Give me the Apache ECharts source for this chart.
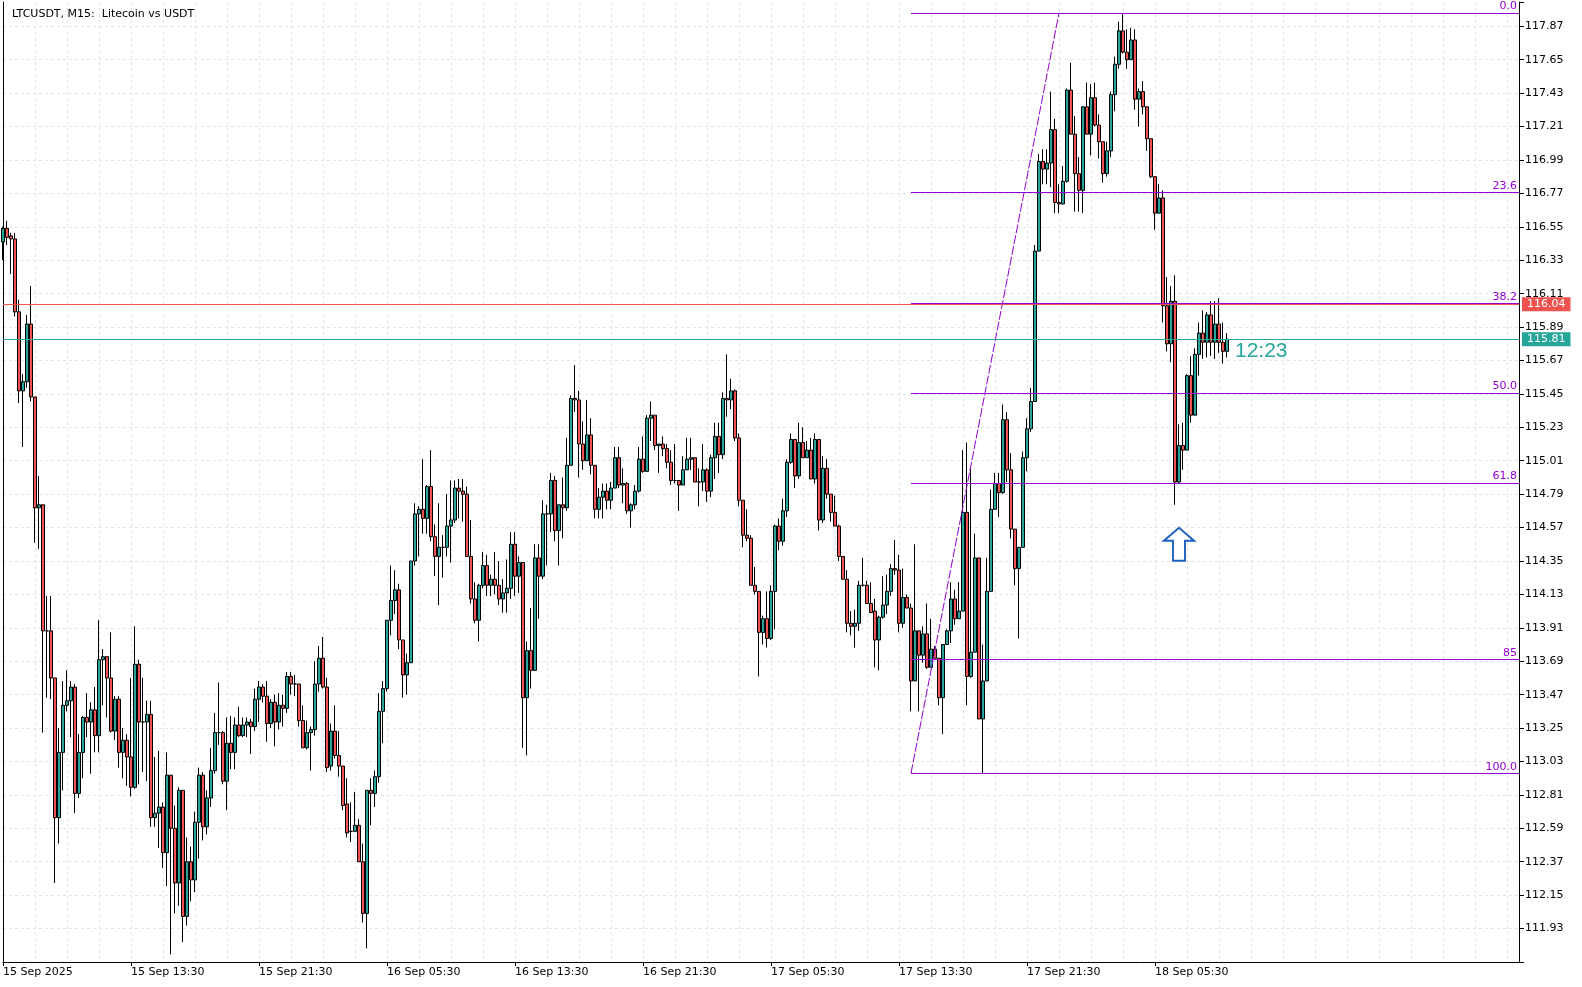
<!DOCTYPE html>
<html><head><meta charset="utf-8">
<script src="https://cdn.jsdelivr.net/npm/echarts@6/dist/echarts.min.js"></script>
<style>html,body{margin:0;padding:0;background:#fff}#c{width:1582px;height:987px}</style>
</head><body><div id="c"></div>
<script>
// ---- data ----
const startTimeUTC = Date.UTC(2025, 8, 15, 5, 30); // first bar: 15 Sep 05:30, M15 bars
const barSlots = 380;
const tickLabels = ['15 Sep 2025','15 Sep 13:30','15 Sep 21:30','16 Sep 05:30','16 Sep 13:30','16 Sep 21:30','17 Sep 05:30','17 Sep 13:30','17 Sep 21:30','18 Sep 05:30'];
const tickEvery = 32;   // bars between time labels
const gridEvery = 8;    // bars between vertical grid lines
// [open, close, low, high]
const ohlc = [
[116.45,116.54,116.33,116.55],[116.54,116.48,116.43,116.59],[116.49,116.47,116.24,116.51],[116.47,115.99,115.96,116.51],
[115.99,115.47,115.39,116.07],[115.47,115.53,115.10,115.58],[115.53,115.91,115.49,115.97],[115.91,115.43,115.40,116.16],
[115.43,114.70,114.47,115.43],[114.70,114.72,114.43,114.91],[114.72,113.89,113.22,114.72],[113.89,113.89,113.45,114.12],
[113.89,113.58,113.44,114.12],[113.58,112.66,112.23,113.58],[112.66,113.09,112.49,113.25],[113.09,113.40,112.84,113.56],
[113.40,113.43,113.36,113.63],[113.43,113.52,113.19,113.56],[113.52,112.82,112.69,113.54],[112.82,113.09,112.79,113.21],
[113.09,113.32,112.92,113.33],[113.32,113.29,113.19,113.48],[113.29,113.37,112.95,113.42],[113.37,113.20,113.09,113.52],
[113.20,113.70,113.09,113.96],[113.70,113.72,113.40,113.77],[113.72,113.58,113.32,113.72],[113.58,113.23,113.22,113.88],
[113.23,113.44,113.17,113.46],[113.44,113.09,112.99,113.46],[113.09,113.17,112.92,113.25],[113.17,113.06,112.87,113.21],
[113.06,112.86,112.80,113.58],[112.86,113.67,112.85,113.92],[113.67,113.29,112.88,113.70],[113.29,113.29,112.96,113.58],
[113.29,113.34,112.90,113.43],[113.34,112.66,112.60,113.43],[112.66,112.69,112.60,113.06],[112.69,112.73,112.46,113.10],
[112.73,112.43,112.33,112.76],[112.43,112.94,112.21,113.09],[112.94,112.59,111.76,112.94],[112.59,112.23,112.03,112.74],
[112.23,112.84,112.08,112.86],[112.84,112.01,111.84,112.84],[112.01,112.37,111.95,112.53],[112.37,112.25,112.11,112.47],
[112.25,112.63,112.17,112.70],[112.63,112.94,112.39,112.99],[112.94,112.60,112.51,112.96],[112.60,112.79,112.55,112.84],
[112.79,112.97,112.73,113.12],[112.97,113.22,112.95,113.35],[113.22,113.22,113.14,113.55],[113.22,112.90,112.88,113.23],
[112.90,113.15,112.71,113.32],[113.15,113.09,112.98,113.33],[113.09,113.27,112.98,113.32],[113.27,113.20,113.19,113.39],
[113.20,113.27,113.19,113.32],[113.27,113.29,113.19,113.32],[113.29,113.26,113.08,113.31],[113.26,113.44,113.23,113.51],
[113.44,113.52,113.29,113.56],[113.52,113.46,113.42,113.54],[113.46,113.28,113.16,113.56],[113.28,113.42,113.25,113.44],
[113.42,113.29,113.13,113.47],[113.29,113.40,113.24,113.48],[113.40,113.38,113.26,113.47],[113.38,113.59,113.35,113.62],
[113.59,113.54,113.47,113.62],[113.54,113.54,113.46,113.60],[113.54,113.30,113.26,113.54],[113.30,113.12,113.12,113.40],
[113.12,113.22,113.11,113.30],[113.22,113.24,112.97,113.26],[113.24,113.54,113.20,113.69],[113.54,113.71,113.49,113.79],
[113.71,113.52,113.51,113.85],[113.52,112.99,112.96,113.58],[113.00,113.23,112.97,113.28],[113.23,113.07,113.05,113.40],
[113.07,113.00,112.93,113.23],[113.00,112.74,112.71,113.00],[112.75,112.56,112.53,112.92],[112.57,112.57,112.50,112.76],
[112.57,112.61,112.57,112.83],[112.61,112.37,112.37,112.65],[112.37,112.03,111.97,112.49],[112.03,112.84,111.80,112.84],
[112.84,112.82,112.61,112.92],[112.82,112.93,112.73,112.97],[112.93,113.36,112.89,113.48],[113.36,113.51,113.15,113.56],
[113.51,113.96,113.49,113.96],[113.96,114.09,113.86,114.32],[114.09,114.16,114.00,114.29],[114.16,113.83,113.77,114.20],
[113.83,113.60,113.45,113.83],[113.60,113.68,113.47,113.74],[113.68,114.35,113.68,114.35],[114.35,114.66,114.32,114.73],
[114.66,114.69,114.38,114.71],[114.69,114.63,114.53,115.02],[114.63,114.84,114.53,114.85],[114.84,114.51,114.48,115.08],
[114.51,114.38,114.25,114.59],[114.38,114.44,114.06,114.73],[114.44,114.44,114.24,114.52],[114.44,114.58,114.38,114.79],
[114.58,114.62,114.34,114.88],[114.62,114.83,114.60,114.88],[114.83,114.81,114.63,114.89],[114.81,114.79,114.61,114.89],
[114.79,114.38,114.38,114.84],[114.38,114.10,114.07,114.62],[114.10,113.96,113.94,114.21],[113.96,114.19,113.82,114.20],
[114.19,114.32,114.17,114.41],[114.32,114.19,114.12,114.39],[114.19,114.23,114.12,114.26],[114.23,114.19,114.13,114.41],
[114.19,114.10,114.06,114.35],[114.10,114.14,114.01,114.23],[114.14,114.17,114.01,114.36],[114.17,114.46,114.10,114.54],
[114.46,114.25,114.12,114.54],[114.25,114.34,114.14,114.38],[114.34,113.45,113.12,114.34],[113.45,113.76,113.07,113.82],
[113.76,113.63,113.51,114.04],[113.63,114.37,113.63,114.46],[114.37,114.25,113.97,114.46],[114.25,114.66,114.23,114.75],
[114.66,114.66,114.32,114.72],[114.66,114.88,114.54,114.93],[114.88,114.55,114.48,114.91],[114.55,114.72,114.32,114.72],
[114.72,114.70,114.50,114.90],[114.70,114.98,114.68,115.16],[114.98,115.42,114.98,115.44],[115.42,115.41,115.33,115.64],
[115.41,115.12,114.90,115.47],[115.12,115.01,114.95,115.27],[115.01,115.18,115.01,115.41],[115.18,114.98,114.92,115.29],
[114.98,114.69,114.63,114.98],[114.69,114.77,114.63,114.83],[114.77,114.81,114.63,114.86],[114.81,114.75,114.69,114.86],
[114.75,114.83,114.69,114.87],[114.83,115.03,114.83,115.10],[115.03,114.85,114.83,115.10],[114.85,114.86,114.73,114.96],
[114.86,114.68,114.66,114.87],[114.68,114.72,114.57,114.73],[114.72,114.81,114.69,114.85],[114.81,115.02,114.80,115.10],
[115.02,114.94,114.93,115.17],[114.94,115.29,114.94,115.31],[115.29,115.31,115.14,115.40],[115.31,115.11,115.08,115.31],
[115.11,115.12,114.93,115.12],[115.12,115.09,115.04,115.17],[115.09,115.00,114.96,115.12],[115.00,114.88,114.85,115.08],
[114.88,114.88,114.86,115.12],[114.88,114.85,114.68,114.88],[114.85,114.95,114.85,115.04],[114.95,115.02,114.95,115.16],
[115.02,115.03,114.95,115.16],[115.03,114.87,114.87,115.03],[114.87,114.87,114.71,114.96],[114.87,114.95,114.81,115.12],
[114.95,114.81,114.74,114.96],[114.81,115.03,114.77,115.05],[115.03,115.17,114.89,115.26],[115.17,115.05,114.93,115.26],
[115.05,115.42,115.02,115.46],[115.42,115.41,115.30,115.71],[115.41,115.47,115.35,115.55],[115.47,115.16,115.14,115.48],
[115.16,114.75,114.71,115.19],[114.75,114.52,114.44,114.75],[114.52,114.50,114.48,114.69],[114.50,114.19,114.19,114.52],
[114.19,114.15,114.13,114.31],[114.15,113.88,113.59,114.15],[113.88,113.97,113.80,113.99],[113.97,113.84,113.78,114.15],
[113.84,114.15,113.83,114.19],[114.15,114.58,113.90,114.59],[114.58,114.48,114.42,114.63],[114.48,114.68,114.45,114.76],
[114.68,115.00,114.64,115.02],[115.00,115.15,114.99,115.19],[115.15,114.91,114.83,115.15],[114.91,115.13,114.89,115.26],
[115.13,115.03,115.03,115.23],[115.03,115.08,115.03,115.14],[115.08,114.89,114.89,115.16],[114.89,115.15,114.86,115.19],
[115.15,114.62,114.55,115.15],[114.62,114.96,114.60,115.04],[114.96,114.79,114.76,115.02],[114.79,114.67,114.61,114.79],
[114.67,114.58,114.58,114.78],[114.58,114.38,114.35,114.59],[114.38,114.23,114.23,114.38],[114.23,113.94,113.88,114.29],
[113.94,113.92,113.86,114.02],[113.92,113.94,113.78,114.03],[113.94,114.19,113.89,114.22],[114.19,114.19,114.18,114.37],
[114.19,114.07,114.07,114.22],[114.07,114.01,114.01,114.21],[114.02,113.83,113.65,114.10],[113.83,113.98,113.63,113.99],
[113.98,114.06,113.97,114.25],[114.06,114.15,114.00,114.26],[114.15,114.30,114.12,114.33],[114.30,114.29,114.26,114.49],
[114.29,113.94,113.88,114.39],[113.94,114.11,113.91,114.30],[114.11,114.04,114.04,114.13],[114.04,113.56,113.36,114.07],
[113.56,113.89,113.56,114.46],[113.89,113.73,113.36,113.89],[113.73,113.87,113.68,113.92],[113.87,113.65,113.64,114.07],
[113.65,113.77,113.65,113.97],[113.77,113.71,113.71,113.79],[113.71,113.45,113.40,113.71],[113.45,113.80,113.21,113.80],
[113.80,113.89,113.80,113.90],[113.89,114.10,113.81,114.21],[114.10,113.97,113.93,114.16],[113.97,114.02,113.97,114.21],
[114.02,114.67,114.02,115.08],[114.67,113.59,113.40,115.13],[113.59,113.75,113.58,114.96],[113.75,114.37,113.75,114.53],
[114.37,113.31,113.31,114.37],[113.31,113.56,112.95,113.80],[113.56,114.15,113.56,114.37],[114.15,114.69,114.15,114.82],
[114.69,114.86,114.69,114.93],[114.86,114.80,114.64,114.93],[114.80,115.28,114.79,115.38],[115.28,114.95,114.87,115.33],
[114.95,114.56,114.50,115.06],[114.56,114.30,114.19,114.56],[114.30,114.44,113.84,114.44],[114.44,115.03,114.44,115.07],
[115.03,115.22,114.94,115.29],[115.22,115.40,115.20,115.49],[115.40,116.39,115.40,116.43],[116.39,116.98,116.39,117.03],
[116.98,116.93,116.83,117.06],[116.93,116.97,116.83,117.06],[116.97,117.19,116.81,117.44],[117.19,116.71,116.64,117.26],
[116.71,116.70,116.64,116.83],[116.70,116.85,116.70,116.95],[116.85,117.45,116.84,117.46],[117.45,117.16,117.16,117.63],
[117.16,116.90,116.65,117.28],[116.90,116.79,116.65,117.01],[116.79,117.34,116.64,117.34],[117.34,117.16,117.16,117.50],
[117.16,117.40,117.02,117.49],[117.40,117.22,117.21,117.50],[117.22,117.11,117.00,117.29],[117.11,116.90,116.84,117.11],
[116.90,117.05,116.88,117.11],[117.05,117.42,117.01,117.44],[117.42,117.62,117.31,117.67],[117.62,117.84,117.59,117.90],
[117.84,117.70,117.69,117.958],[117.70,117.65,117.59,117.85],[117.65,117.78,117.65,117.86],[117.78,117.39,117.32,117.85],
[117.39,117.44,117.21,117.46],[117.44,117.34,117.29,117.51],[117.34,117.13,117.05,117.34],[117.13,116.88,116.87,117.13],
[116.88,116.64,116.53,116.88],[116.64,116.74,116.64,116.83],[116.74,116.03,115.92,116.79],[116.03,115.78,115.73,116.22],
[115.78,116.06,115.66,116.16],[116.06,114.87,114.72,116.23],[114.87,115.11,114.86,115.25],[115.11,115.08,114.95,115.26],
[115.08,115.57,115.08,115.58],[115.57,115.31,115.26,115.70],[115.31,115.71,115.31,115.75],[115.71,115.85,115.57,115.92],
[115.85,115.79,115.68,116.00],[115.79,115.97,115.69,115.99],[115.97,115.79,115.70,116.06],[115.79,115.91,115.68,116.06],
[115.91,115.79,115.72,116.08],[115.79,115.73,115.65,115.92],[115.73,115.81,115.69,115.85]
];
const fibHigh = 117.958, fibLow = 112.953;
const fibStartBar = 227, fibEndBar = 264;
const fibLevels = [0, 23.6, 38.2, 50, 61.8, 85, 100];
const fibLabels = ['0.0','23.6','38.2','50.0','61.8','85','100.0'];
const askPrice = 116.04, bidPrice = 115.81;
const countdownText = '12:23', countdownBar = 308;
const arrowBar = 294, arrowPrice = 114.46;
const yMin = 111.71, yMax = 118.03, yStep = 0.22;

// ---- build ----
const pad = n => String(n).padStart(2, '0');
const categories = [];
for (let i = 0; i < barSlots; i++) {
  const d = new Date(startTimeUTC + i * 15 * 60000);
  categories.push(d.getUTCFullYear() + '-' + pad(d.getUTCMonth() + 1) + '-' + pad(d.getUTCDate()) + ' ' + pad(d.getUTCHours()) + ':' + pad(d.getUTCMinutes()));
}
const labelMap = {};
tickLabels.forEach((t, k) => { labelMap[categories[k * tickEvery]] = t; });
const isLabelIdx = (idx) => idx % tickEvery === 0 && idx / tickEvery < tickLabels.length;

const FIB = '#9400d3', UP = '#26a69a', DOWN = '#ef5350';
const FONT = 'DejaVu Sans';
const lastIdx = barSlots - 1;

const markLines = [];
fibLevels.forEach((lv, k) => {
  const p = fibHigh - (fibHigh - fibLow) * lv / 100;
  markLines.push([
    { coord: [categories[fibStartBar], p],
      lineStyle: { color: FIB, width: 1, type: 'solid' },
      label: { show: true, position: 'insideEndTop', formatter: fibLabels[k], color: FIB, fontFamily: FONT, fontSize: 11, distance: [2, 1] } },
    { coord: [categories[lastIdx], p] }
  ]);
});
markLines.push([
  { coord: [categories[fibStartBar], fibLow], lineStyle: { color: FIB, width: 1, type: [9, 2] }, label: { show: false } },
  { coord: [categories[fibEndBar], fibHigh] }
]);
markLines.push({ yAxis: askPrice, lineStyle: { color: DOWN, width: 1, type: 'solid' },
  label: { show: true, position: 'end', formatter: askPrice.toFixed(2), color: '#fff', backgroundColor: DOWN, padding: [2, 5, 1, 5], fontFamily: FONT, fontSize: 11, distance: 3 } });
markLines.push({ yAxis: bidPrice, lineStyle: { color: UP, width: 1, type: 'solid' },
  label: { show: true, position: 'end', formatter: bidPrice.toFixed(2), color: '#fff', backgroundColor: UP, padding: [2, 5, 1, 5], fontFamily: FONT, fontSize: 11, distance: 3 } });

const arrowPath = 'path://M15,0 L30,13 L21,13 L21,33 L9,33 L9,13 L0,13 Z';

const chart = echarts.init(document.getElementById('c'), null, { renderer: 'canvas' });
chart.setOption({
  animation: false,
  backgroundColor: '#fff',
  title: { text: 'LTCUSDT, M15:  Litecoin vs USDT', left: 7, top: 4,
    textStyle: { fontFamily: FONT, fontSize: 11, fontWeight: 'normal', color: '#000' } },
  grid: { left: 2.5, right: 63, top: 2, bottom: 25, show: false },
  xAxis: {
    type: 'category', data: categories, boundaryGap: false,
    axisLine: { show: true, lineStyle: { color: '#000', width: 1 } },
    axisTick: { show: true, length: 4, interval: (i) => isLabelIdx(i), lineStyle: { color: '#000' } },
    axisLabel: { show: true, interval: (i) => isLabelIdx(i), formatter: (v) => labelMap[v] || '',
      align: 'left', margin: 5, color: '#000', fontFamily: FONT, fontSize: 11 },
    splitLine: { show: true, interval: (i) => i % gridEvery === 0 && i > 0, lineStyle: { color: '#e4e4e4', type: [3, 3], width: 1 } }
  },
  yAxis: [{
    type: 'value', position: 'right', min: yMin, max: yMax, interval: yStep, scale: true,
    axisLine: { show: true, lineStyle: { color: '#000', width: 1 } },
    axisTick: { show: true, length: 5, lineStyle: { color: '#000' } },
    axisLabel: { margin: 6, color: '#000', fontFamily: FONT, fontSize: 11,
      formatter: (v) => (v < yMin + 0.05 || v > yMax - 0.1) ? '' : v.toFixed(2) },
    splitLine: { show: true, showMinLine: false, showMaxLine: false, lineStyle: { color: '#e4e4e4', type: [3, 3], width: 1 } }
  }, {
    type: 'value', position: 'left', min: yMin, max: yMax, interval: yStep,
    axisLine: { show: true, onZero: false, lineStyle: { color: '#000', width: 1 } },
    axisTick: { show: false }, axisLabel: { show: false }, splitLine: { show: false }
  }],
  series: [
    {
      type: 'candlestick', data: ohlc, barWidth: 3, z: 3,
      itemStyle: { color: UP, color0: DOWN, borderColor: '#000', borderColor0: '#000', borderColorDoji: '#000', borderWidth: 1 }
    },
    {
      type: 'line', data: [], clip: false, z: 2, silent: true,
      markLine: { silent: true, symbol: ['none', 'none'], animation: false, data: markLines },
      markPoint: { silent: true, animation: false, data: [
        { coord: [categories[arrowBar], arrowPrice], symbol: arrowPath, symbolSize: [30, 33],
          itemStyle: { color: '#fff', borderColor: '#1f5fc0', borderWidth: 2 }, label: { show: false } },
        { coord: [categories[countdownBar], bidPrice], symbol: 'circle', symbolSize: 0,
          label: { show: true, position: 'right', distance: 0, offset: [0, 12], formatter: countdownText,
            color: UP, fontSize: 21, fontFamily: 'Liberation Sans' } }
      ] }
    }
  ]
});
</script></body></html>
